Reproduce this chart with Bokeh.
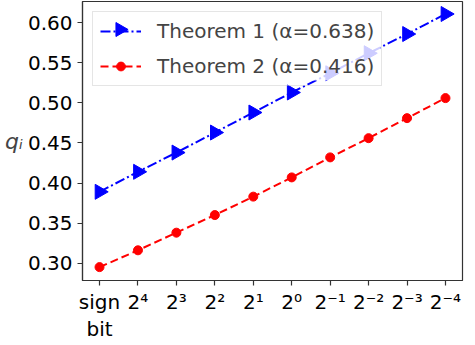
import numpy as np
from bokeh.plotting import figure
from bokeh.models import FixedTicker, Range1d, Legend, LegendItem, LinearAxis
from bokeh.embed import file_html
from bokeh.resources import INLINE

categories = ["sign", "2⁴", "2³", "2²", "2¹", "2⁰", "2⁻¹", "2⁻²", "2⁻³", "2⁻⁴"]
category_second_line = {0: "bit"}
thm1 = [0.389, 0.414, 0.438, 0.463, 0.488, 0.513, 0.537, 0.562, 0.586, 0.611]
thm2 = [0.295, 0.316, 0.338, 0.360, 0.383, 0.407, 0.432, 0.456, 0.481, 0.506]
thm1_label = "Theorem 1 (α=0.638)"
thm2_label = "Theorem 2 (α=0.416)"
y_label = "qᵢ"
y_ticks = [0.30, 0.35, 0.40, 0.45, 0.50, 0.55, 0.60]

x = list(range(len(categories)))
FONT = "DejaVu Sans"
Y0, Y1 = 0.2783, 0.6266
X0, X1 = -0.443, 9.443
FRAME_W, FRAME_H = 380, 279
PX_X = FRAME_W / (X1 - X0)   # pixels per x unit
PX_Y = FRAME_H / (Y1 - Y0)   # pixels per y unit

p = figure(width=475, height=345, frame_width=FRAME_W, frame_height=FRAME_H,
           output_backend="svg", toolbar_location=None,
           x_range=Range1d(X0, X1), y_range=Range1d(Y0, Y1),
           min_border_left=82, min_border_right=13, min_border_top=1, min_border_bottom=40)

p.xgrid.visible = False
p.ygrid.visible = False
p.outline_line_color = "#333333"
p.outline_line_width = 1.2

for ax in (p.xaxis[0], p.yaxis[0]):
    ax.axis_line_color = "#333333"
    ax.axis_line_width = 1.2
    ax.major_tick_line_color = "#333333"
    ax.major_tick_line_width = 1.2
    ax.major_tick_out = 5
    ax.major_tick_in = 0
    ax.minor_tick_line_color = None
    ax.major_label_text_font = FONT
    ax.major_label_text_font_size = "20px"
    ax.major_label_text_color = "black"
    ax.major_label_standoff = 5

p.xaxis.major_label_standoff = 4
p.xaxis.ticker = FixedTicker(ticks=x)
p.xaxis.major_label_overrides = {i: c for i, c in zip(x, categories)}
p.yaxis.ticker = FixedTicker(ticks=y_ticks)
p.yaxis.major_label_overrides = {t: f"{t:.2f}" for t in y_ticks}

# second line of the first category label ("sign" / "bit")
ax2 = LinearAxis(ticker=FixedTicker(ticks=list(category_second_line.keys())),
                 major_label_overrides=category_second_line,
                 axis_line_color=None, major_tick_line_color=None, minor_tick_line_color=None,
                 major_tick_out=0, major_tick_in=0, major_label_standoff=0,
                 major_label_text_font=FONT, major_label_text_font_size="20px",
                 major_label_text_color="black")
p.add_layout(ax2, "below")

# y-axis label, horizontal
yax = p.yaxis[0]
yax.axis_label = y_label
yax.axis_label_text_font = FONT
yax.axis_label_text_font_size = "22px"
yax.axis_label_text_font_style = "italic"
yax.axis_label_standoff = 2
if "axis_label_orientation" in yax.properties():
    yax.axis_label_orientation = "horizontal"

r1l = p.line(x, thm1, line_color="#0000ff", line_width=2, line_dash="10 3 2 3")
r1m = p.scatter(x, thm1, marker="triangle", size=15, angle=-np.pi / 2,
                fill_color="#0000ff", line_color="#0000ff")
r2l = p.line(x, thm2, line_color="#ff0000", line_width=2, line_dash="8 4")
r2m = p.scatter(x, thm2, marker="circle", size=9, fill_color="#ff0000", line_color="#ff0000")

# legend box (screen px inside the frame: left, right, top, bottom)
LEG_L, LEG_R, LEG_T, LEG_B = 10, 298, 10, 79

# translucent legend background drawn as a glyph so the rotated key can sit above it
p.quad(left=[X0 + LEG_L / PX_X], right=[X0 + LEG_R / PX_X],
       top=[Y1 - LEG_T / PX_Y], bottom=[Y1 - LEG_B / PX_Y],
       fill_color="white", fill_alpha=0.8, line_color=None)

# right-pointing legend key for Theorem 1 (legend keys cannot be rotated)
p.scatter([X0 + (LEG_L + 7 + 20.5) / PX_X], [Y1 - (LEG_T + 7 + 11) / PX_Y],
          marker="triangle", size=14, angle=-np.pi / 2,
          fill_color="#0000ff", line_color="#0000ff")

legend = Legend(items=[LegendItem(label=thm1_label, renderers=[r1l]),
                       LegendItem(label=thm2_label, renderers=[r2l, r2m])],
                location="top_left", margin=LEG_L, padding=7, spacing=11,
                glyph_width=41, glyph_height=22, label_height=22, label_standoff=16,
                label_text_font=FONT, label_text_font_size="20px",
                border_line_color="#cccccc", border_line_width=1,
                background_fill_alpha=0)
p.add_layout(legend)

open("out.html", "w").write(file_html(p, INLINE))
